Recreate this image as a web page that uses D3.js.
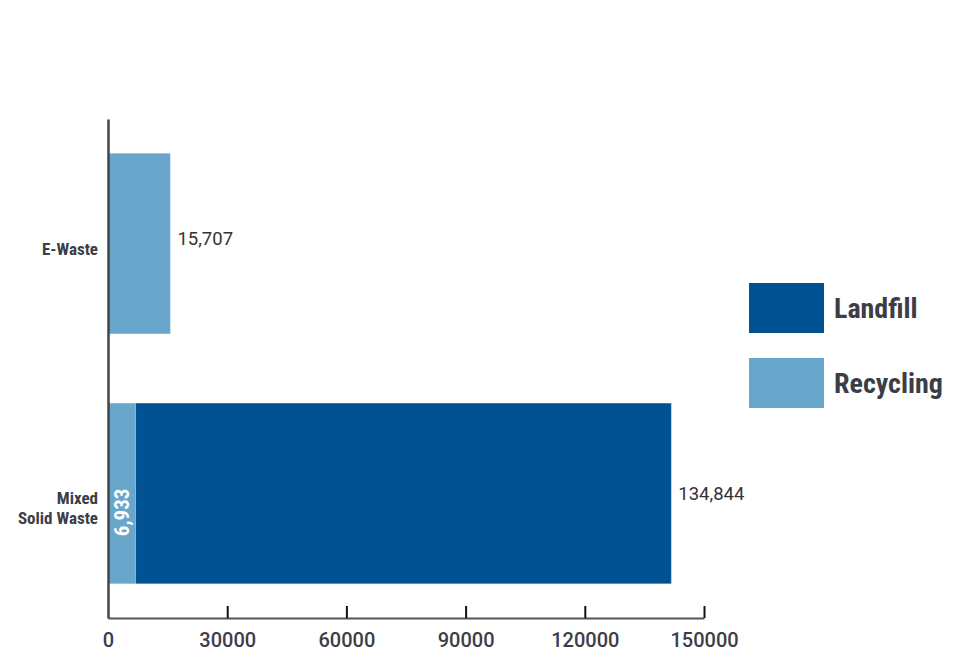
<!DOCTYPE html>
<html>
<head>
<meta charset="utf-8">
<script src="https://cdn.jsdelivr.net/npm/d3@7"></script>
<style>
  body { margin: 0; background: #fff; }
  .cond { font-family: "Liberation Sans Narrow", "Arial Narrow", "Roboto Condensed", sans-serif; font-weight: bold; fill: #3b3e46; }
  .num { font-family: Roboto, "Noto Sans", sans-serif; fill: #333; }
  .xAxis text { font-family: Roboto, "Noto Sans", sans-serif; font-weight: 500; font-size: 20px; fill: #3b3e46; }
</style>
</head>
<body>
<div id="chart"></div>
<script>
// chart data
var categories = ["E-Waste", "Mixed Solid Waste"];
var categoryLines = [["E-Waste"], ["Mixed", "Solid Waste"]];
var recycling = [15707, 6933];
var landfill = [0, 134844];
var seriesNames = ["Recycling", "Landfill"];
var legendNames = ["Landfill", "Recycling"];
var xTicks = [0, 30000, 60000, 90000, 120000, 150000];

var colors = { Landfill: "#005293", Recycling: "#68a6cb" };

var width = 958, height = 668;

var svg = d3.select("#chart")
    .append("svg")
    .attr("width", width)
    .attr("height", height);

// build rows for the stack
var rows = categories.map(function(c, i) {
    return { cat: c, Recycling: recycling[i], Landfill: landfill[i] };
});

var stacked = d3.stack().keys(seriesNames)(rows);

var xScale = d3.scaleLinear()
    .domain([0, 150000])
    .range([108, 704]);

var yScale = d3.scaleBand()
    .domain(categories)
    .range([119, 618])
    .paddingInner(0.277)
    .paddingOuter(0.137);

// bars
svg.selectAll("g.series")
    .data(stacked)
    .enter()
    .append("g")
    .attr("class", "series")
    .attr("fill", function(d) { return colors[d.key]; })
    .selectAll("rect")
    .data(function(d) { return d; })
    .enter()
    .filter(function(d) { return d[1] > d[0]; })
    .append("rect")
    .attr("x", function(d) { return xScale(d[0]); })
    .attr("y", function(d) { return yScale(d.data.cat); })
    .attr("width", function(d) { return xScale(d[1]) - xScale(d[0]); })
    .attr("height", yScale.bandwidth())
    .attr("stroke", "#ffffff")
    .attr("stroke-opacity", 0.25)
    .attr("stroke-width", 1);

// x axis, ticks pointing up
var xAxis = d3.axisBottom(xScale)
    .tickValues(xTicks)
    .tickFormat(d3.format("d"))
    .tickSizeInner(-12)
    .tickSizeOuter(0)
    .tickPadding(15);

var gx = svg.append("g")
    .attr("class", "xAxis")
    .attr("transform", "translate(0," + 618 + ")")
    .call(xAxis);
gx.select(".domain").attr("stroke", "#555").attr("stroke-width", 2);
gx.selectAll(".tick line").attr("stroke", "#111").attr("stroke-width", 2);
gx.selectAll(".tick").filter(function(d) { return d === 0; }).select("line").remove();

// y axis line
var yAxis = d3.axisLeft(yScale).tickSize(0).tickFormat("");
var gy = svg.append("g")
    .attr("class", "yAxis")
    .attr("transform", "translate(108,0)")
    .call(yAxis);
gy.select(".domain").attr("stroke", "#444").attr("stroke-width", 2.5);

// category labels
categories.forEach(function(c, i) {
    var lines = categoryLines[i];
    var cy = yScale(c) + yScale.bandwidth() / 2;
    var t = svg.append("text")
        .attr("class", "cond")
        .attr("text-anchor", "end")
        .attr("font-size", 17)
        .attr("x", 98);
    lines.forEach(function(l, j) {
        t.append("tspan")
            .attr("x", 98)
            .attr("y", cy + 11 + j * 20)
            .text(l);
    });
});

// value labels at bar ends
var fmt = d3.format(",");
rows.forEach(function(r) {
    var total = r.Recycling + r.Landfill;
    var labelVal = r.Landfill > 0 ? r.Landfill : r.Recycling;
    svg.append("text")
        .attr("class", "num")
        .attr("font-size", 18.5)
        .attr("x", xScale(total) + 7)
        .attr("y", yScale(r.cat) + yScale.bandwidth() / 2 + (r.Landfill > 0 ? 7 : 1))
        .text(fmt(labelVal));
    // recycling value inside when there is landfill
    if (r.Landfill > 0) {
        var lx = xScale(r.Recycling / 2);
        var ly = yScale(r.cat) + yScale.bandwidth() / 2 + 19;
        svg.append("text")
            .attr("class", "cond")
            .style("fill", "#fff")
            .attr("font-size", 21)
            .attr("text-anchor", "middle")
            .attr("transform", "translate(" + (lx + 7) + "," + ly + ")rotate(-90)")
            .text(fmt(r.Recycling));
    }
});

// legend
var legend = svg.append("g").attr("transform", "translate(749,283)");
legendNames.forEach(function(n, i) {
    var g = legend.append("g").attr("transform", "translate(0," + (i * 75) + ")");
    g.append("rect")
        .attr("width", 75)
        .attr("height", 50)
        .attr("fill", colors[n]);
    g.append("text")
        .attr("class", "cond")
        .attr("font-size", 28)
        .attr("x", 85)
        .attr("y", 35)
        .text(n);
});
</script>
</body>
</html>
